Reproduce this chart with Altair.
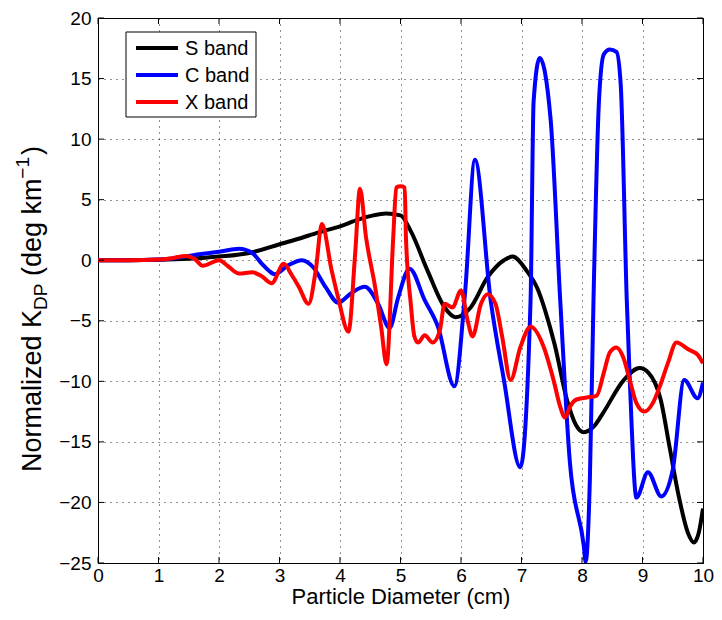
import altair as alt
import pandas as pd

# ---- data ----
s_x = [0, 0.5, 1, 1.5, 2.0, 2.5, 2.99, 3.3, 3.65, 4.0, 4.3, 4.55, 4.76, 5.0, 5.17, 5.45, 5.73, 5.91, 6.16,
       6.44, 6.71, 6.85, 7.09, 7.26, 7.4, 7.55, 7.75, 7.9, 8.03, 8.2, 8.35, 8.69, 8.95, 9.1, 9.3, 9.45, 9.6,
       9.75, 9.85, 9.93, 10]
s_y = [0, 0, 0.03, 0.12, 0.3, 0.6, 1.3, 1.75, 2.3, 2.8, 3.35, 3.7, 3.85, 3.7, 2.4, -0.9, -3.9, -4.7, -3.9,
       -1.4, 0, 0.3, -0.9, -2.3, -4.3, -7.0, -11.5, -13.6, -14.2, -13.7, -12.6, -9.9, -8.9, -9.3, -11.5,
       -15.5, -19.5, -22.5, -23.3, -22.5, -20.5]

c_x = [0, 0.5, 1, 1.3, 1.67, 2.0, 2.33, 2.55, 2.71, 2.82, 2.92, 3.15, 3.37, 3.56, 3.76, 3.97, 4.19, 4.41,
       4.63, 4.82, 4.96, 5.15, 5.4, 5.62, 5.89, 6.07, 6.23, 6.49, 6.71, 6.98, 7.15, 7.2, 7.3, 7.48, 7.64,
       7.8, 8.03, 8.06, 8.13, 8.19, 8.28, 8.36, 8.46, 8.57, 8.64, 8.74, 8.79, 8.9, 9.09, 9.31, 9.5, 9.69,
       9.91, 10]
c_y = [0, 0, 0.05, 0.2, 0.5, 0.7, 0.95, 0.6, -0.3, -0.85, -1.15, -0.4, 0.0, -0.6, -2.2, -3.5, -2.7, -2.2,
       -3.6, -5.6, -3.1, -0.7, -3.3, -5.5, -10.4, -2.5, 8.3, -3.3, -9.9, -17.1, -3.3, 13.1, 16.7, 11.7,
       -3.3, -16.7, -23.6, -24.9, -18.1, -3.3, 13.1, 17.0, 17.4, 17.2, 14.5, -3.3, -9.9, -19.6, -17.5,
       -19.5, -17.3, -9.9, -11.4, -10.1]

x_x = [0, 0.5, 1, 1.2, 1.46, 1.6, 1.73, 2.0, 2.15, 2.33, 2.55, 2.7, 2.87, 3.07, 3.2, 3.32, 3.48, 3.6, 3.7,
       3.86, 3.97, 4.14, 4.25, 4.33, 4.43, 4.58, 4.68, 4.77, 4.88, 4.93, 5.0, 5.07, 5.09, 5.17, 5.23,
       5.29, 5.4, 5.53, 5.65, 5.73, 5.86, 6.0, 6.11, 6.19, 6.33, 6.44, 6.57, 6.68, 6.82, 6.98, 7.15, 7.37,
       7.53, 7.64, 7.72, 7.8, 7.91, 8.13, 8.24, 8.36, 8.46, 8.57, 8.68, 8.79, 8.9, 9.03, 9.17, 9.28, 9.42,
       9.56, 9.77, 9.91, 10]
x_y = [0, 0, 0.05, 0.15, 0.35, 0.1, -0.45, 0, -0.5, -1.1, -1.0, -1.3, -1.9, -0.3, -1.2, -2.2, -3.6, -0.8,
       3.0, -0.8, -3.1, -5.9, 0.5, 5.9, 1.9, -2.2, -5.5, -8.6, 1.9, 6.0, 6.1, 6.0, 1.9, -3.6, -6.3, -6.8,
       -6.2, -6.8, -5.8, -3.6, -3.9, -2.5, -5.0, -6.3, -3.6, -2.8, -3.6, -6.3, -9.9, -7.2, -5.5, -7.2,
       -9.9, -12.1, -13.0, -12.1, -11.5, -11.3, -11.2, -9.3, -7.6, -7.2, -8.0, -9.9, -11.8, -12.5, -11.8,
       -10.5, -8.5, -6.8, -7.4, -7.8, -8.5]

series_names = ["S band", "C band", "X band"]
series_colors = ["#000000", "#0000ff", "#ff0000"]
x_ticks = list(range(0, 11))
y_ticks = list(range(-25, 21, 5))
x_title = "Particle Diameter (cm)"
y_title_parts = ["Normalized K", "DP", "(deg km", "\u22121", ")"]

W, H = 605, 545
FONT = "Liberation Sans"
xscale = alt.Scale(domain=[0, 10], nice=False, zero=False)
yscale = alt.Scale(domain=[-25, 20], nice=False, zero=False)

common_axis = dict(labelFont=FONT, labelFontSize=19, labelColor="black", ticks=False,
                   grid=True, gridColor="black", gridDash=[1, 5], gridOpacity=0.85, gridWidth=1,
                   domainColor="black", domainWidth=1, format="d", labelFlush=False)
x_axis = alt.Axis(values=x_ticks, title=x_title, titleFont=FONT, titleFontSize=22,
                  titleFontWeight="normal", titleColor="black", labelPadding=3, titlePadding=1,
                  **common_axis)
y_axis = alt.Axis(values=y_ticks, title=None, labelPadding=7, **common_axis)

X = lambda f: alt.X(f, scale=xscale, axis=x_axis)
Y = lambda f: alt.Y(f, scale=yscale, axis=y_axis)


def line_layer(xs, ys, color):
    df = pd.DataFrame({"d": xs, "k": ys})
    return alt.Chart(df).mark_line(color=color, strokeWidth=4, interpolate="monotone", clip=True).encode(
        x=X("d:Q"), y=Y("k:Q"))


layers = [line_layer(xs, ys, c) for xs, ys, c in
          [(s_x, s_y, series_colors[0]), (c_x, c_y, series_colors[1]), (x_x, x_y, series_colors[2])]]

# inward tick marks (MATLAB style)
xt = pd.DataFrame({"d": x_ticks})
yt = pd.DataFrame({"k": y_ticks})
for y1, y2 in [(H, H - 6), (0, 6)]:
    layers.append(alt.Chart(xt).mark_rule(color="black", strokeWidth=1).encode(
        x=X("d:Q"), y=alt.value(y1), y2=alt.value(y2)))
for x1, x2 in [(0, 6), (W - 6, W)]:
    layers.append(alt.Chart(yt).mark_rule(color="black", strokeWidth=1).encode(
        y=Y("k:Q"), x=alt.value(x1), x2=alt.value(x2)))

# y-axis title built from pieces (subscript / superscript)
F, FS = 27, 19
base_x = -57
gap = 0.278 * F
lengths = [6.0 * F, 1.389 * FS + gap, 3.61 * F, 1.14 * FS + 2, 0.333 * F]
total = sum(lengths)
y0 = 291 + total / 2
offsets = [0, 6, 0, -12, 0]
sizes = [F, FS, F, FS, F]
pos = y0
for part, L, dx, fs in zip(y_title_parts, lengths, offsets, sizes):
    layers.append(alt.Chart(pd.DataFrame({"t": [part]})).mark_text(
        angle=270, align="left", baseline="alphabetic", font=FONT, fontSize=fs, color="black").encode(
        text="t:N", x=alt.value(base_x + dx), y=alt.value(pos)))
    pos -= L

# legend box
layers.append(alt.Chart(pd.DataFrame({"a": [0]})).mark_rect(fill="white", stroke="black", strokeWidth=1).encode(
    x=alt.value(28), x2=alt.value(158), y=alt.value(14), y2=alt.value(99)))
for i, (name, col) in enumerate(zip(series_names, series_colors)):
    yy = 30 + 27 * i
    layers.append(alt.Chart(pd.DataFrame({"a": [0]})).mark_rule(color=col, strokeWidth=4).encode(
        x=alt.value(38), x2=alt.value(80), y=alt.value(yy)))
    layers.append(alt.Chart(pd.DataFrame({"t": [name]})).mark_text(
        align="left", baseline="middle", font=FONT, fontSize=20, color="black").encode(
        text="t:N", x=alt.value(87), y=alt.value(yy + 1)))

chart = alt.layer(*layers).properties(
    width=W, height=H,
    autosize=alt.AutoSizeParams(type="none"),
    padding={"left": 90, "top": 10, "right": 11, "bottom": 47},
).configure_view(stroke="black", strokeWidth=1)

chart.save("out.html", embed_options={"renderer": "svg", "actions": False})
